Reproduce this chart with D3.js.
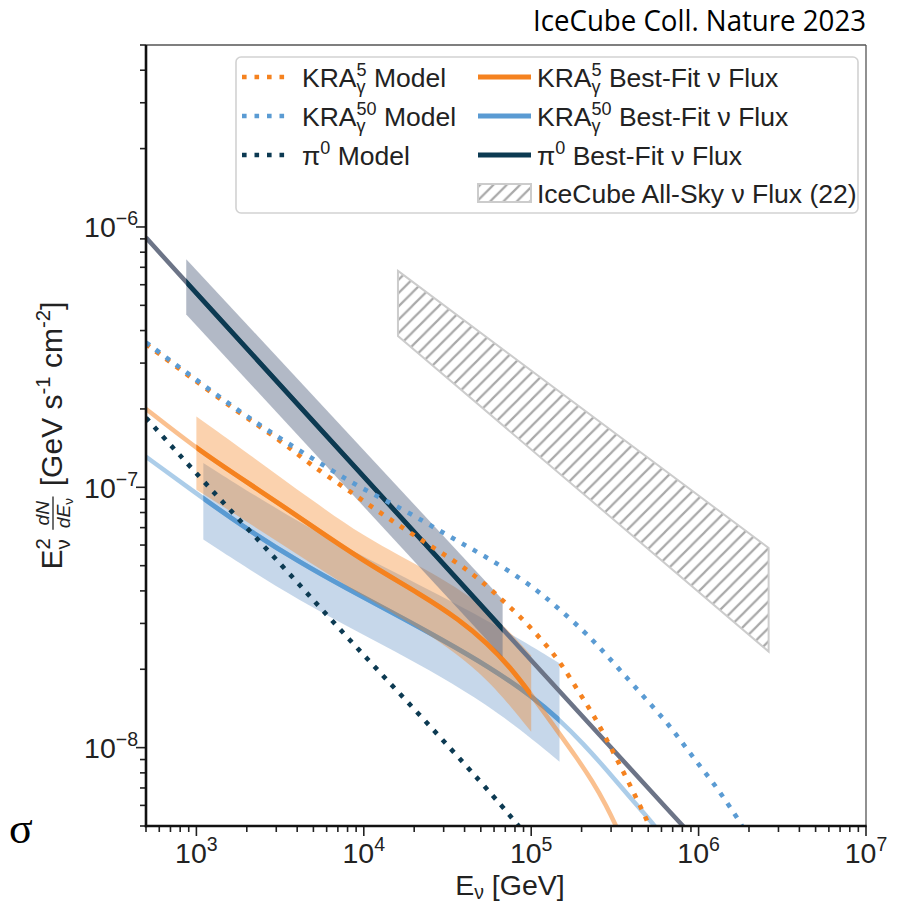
<!DOCTYPE html>
<html><head><meta charset="utf-8">
<script src="https://cdn.jsdelivr.net/npm/d3@7"></script>
<style>
html,body{margin:0;padding:0;background:#fff;}
svg text{font-family:"Liberation Sans",Arial,Helvetica,sans-serif;white-space:pre;fill:#222;}
</style></head>
<body><svg id="chart" width="902" height="904"></svg>
<script>
// E^2 dN/dE [GeV s^-1 cm^-2] versus neutrino energy E [GeV]

// tick decades (powers of ten)
const xTickExponents = [3, 4, 5, 6, 7];
const yTickExponents = [-8, -7, -6];

// KRA-gamma (5 PeV cutoff) model, dotted
const kra5ModelE = [500, 893, 1778, 3155, 4645, 8241, 14290, 25350, 44870, 66220, 89130, 120200, 151000, 194100, 238800, 300600, 382800, 508200, 530000];
const kra5ModelF = [3.55e-7, 2.69e-7, 1.94e-7, 1.52e-7, 1.24e-7, 9.66e-8, 7.52e-8, 5.93e-8, 4.69e-8, 3.72e-8, 3.12e-8, 2.52e-8, 2.11e-8, 1.62e-8, 1.32e-8, 9.95e-9, 7.35e-9, 5.05e-9, 4.6e-9];

// KRA-gamma (50 PeV cutoff) model, dotted
const kra50ModelE = [500, 893, 1778, 3155, 5458, 9462, 17990, 28380, 44870, 70960, 107200, 140900, 208000, 261800, 328900, 414000, 520000, 653100, 803500, 986300, 1213000, 1489000, 1790000, 1900000];
const kra50ModelF = [3.6e-7, 2.73e-7, 1.97e-7, 1.54e-7, 1.24e-7, 9.98e-8, 8.1e-8, 6.8e-8, 5.77e-8, 4.86e-8, 4.05e-8, 3.49e-8, 2.79e-8, 2.39e-8, 2.03e-8, 1.72e-8, 1.46e-8, 1.24e-8, 1.04e-8, 8.71e-9, 7.39e-9, 6.11e-9, 5.12e-9, 4.7e-9];

// pi0 model, dotted
const pi0ModelE = [500, 1151, 3296, 8241, 21090, 53210, 83180, 90000];
const pi0ModelF = [1.85e-7, 1.02e-7, 4.97e-8, 2.58e-8, 1.36e-8, 7.08e-9, 5.05e-9, 4.75e-9];

// best-fit fluxes (full curve; drawn strong inside the sensitive energy range)
const kra5FitE = [500, 1000, 1820, 3300, 5980, 11350, 21580, 37330, 54950, 74300, 100000, 147600, 185800, 233300, 280500, 321400, 345000];
const kra5FitF = [2.0e-7, 1.41e-7, 1.09e-7, 8.45e-8, 6.5e-8, 4.95e-8, 3.9e-8, 3.1e-8, 2.51e-8, 2.05e-8, 1.6e-8, 1.13e-8, 9.2e-9, 7.4e-9, 6.0e-9, 5.0e-9, 4.5e-9];
const kra5Range = [1000, 100000];

const kra50FitE = [500, 1100, 2090, 4150, 7890, 14960, 28380, 56360, 101900, 147600, 203200, 280500, 386400, 557200, 600000];
const kra50FitF = [1.31e-7, 9.05e-8, 6.78e-8, 5.15e-8, 4.09e-8, 3.29e-8, 2.63e-8, 2.04e-8, 1.57e-8, 1.28e-8, 1.04e-8, 8.26e-9, 6.48e-9, 4.95e-9, 4.6e-9];
const kra50Range = [1100, 147600];

const pi0FitE = [500, 870, 10000, 67500, 1000000];
const pi0FitF = [9.1e-7, 6.13e-7, 1.1e-7, 2.85e-8, 4.3e-9];
const pi0Range = [870, 67500];

// uncertainty bands of the best fits
const kra5BandE  = [1000, 2000, 5000, 10000, 20000, 50000, 100000];
const kra5BandHi = [1.87e-7, 1.36e-7, 8.83e-8, 6.47e-8, 5.11e-8, 3.68e-8, 2.26e-8];
const kra5BandLo = [9.79e-8, 7.38e-8, 5.04e-8, 3.80e-8, 2.96e-8, 2.0e-8, 1.15e-8];

const kra50BandE  = [1100, 4150, 14960, 56360, 147600];
const kra50BandHi = [1.24e-7, 7.23e-8, 4.75e-8, 3.07e-8, 2.11e-8];
const kra50BandLo = [6.30e-8, 3.62e-8, 2.38e-8, 1.47e-8, 8.83e-9];

const pi0BandE  = [870, 67500];
const pi0BandHi = [7.52e-7, 3.70e-8];
const pi0BandLo = [4.61e-7, 2.23e-8];

// IceCube all-sky diffuse flux region
const iceE  = [16000, 2620000];
const iceHi = [6.78e-7, 5.85e-8];
const iceLo = [3.81e-7, 2.34e-8];

// ---------------------------------------------------------------
const C = {
  orange: "#f5821f", blue: "#5a9bd3", navy: "#0c3a52", navyExt: "#6c7487",
  orangeBand: "#f5821f", blueBand: "#3a76b8", navyBand: "#5c6a85"
};

const svg = d3.select("#chart");
const X0 = 146, X1 = 866, Y0 = 45, Y1 = 826;
const x = d3.scaleLog().domain([500, 1e7]).range([X0, X1]);
const y = d3.scaleLog().domain([5e-9, 5e-6]).range([Y1, Y0]);

const defs = svg.append("defs");
defs.append("clipPath").attr("id", "plot")
  .append("rect").attr("x", X0).attr("y", Y0).attr("width", X1 - X0).attr("height", Y1 - Y0);
// clip windows for the fitted energy ranges
[["kra5", kra5Range], ["kra50", kra50Range], ["pi0", pi0Range]].forEach(([id, r]) => {
  defs.append("clipPath").attr("id", "rng-" + id)
    .append("rect").attr("x", x(r[0])).attr("y", Y0).attr("width", x(r[1]) - x(r[0])).attr("height", Y1 - Y0);
});

const hs = 13.3;
defs.append("pattern").attr("id", "hatch").attr("patternUnits", "userSpaceOnUse")
  .attr("width", hs).attr("height", hs)
  .append("path")
  .attr("d", `M0,${hs} L${hs},0 M${-hs/4},${hs/4} L${hs/4},${-hs/4} M${3*hs/4},${5*hs/4} L${5*hs/4},${3*hs/4}`)
  .attr("stroke", "#a9a9a9").attr("stroke-width", 2.2);

const zip = (E, F) => E.map((e, i) => [e, F[i]]);
const line = d3.line().x(d => x(d[0])).y(d => y(d[1])).curve(d3.curveBasis);
const area = d3.area().x(d => x(d.e)).y0(d => y(d.lo)).y1(d => y(d.hi)).curve(d3.curveBasis);
const bandData = (E, H, L) => E.map((e, i) => ({ e, hi: H[i], lo: L[i] }));

const plot = svg.append("g").attr("clip-path", "url(#plot)");

function fitCurve(pts, id, color, faint) {
  const p = plot.append("path").attr("d", line(pts)).attr("fill", "none")
    .attr("stroke", faint.color || color).attr("stroke-width", 4.5);
  if (faint.opacity) p.attr("stroke-opacity", faint.opacity);
  plot.append("path").attr("d", line(pts)).attr("fill", "none").attr("clip-path", `url(#rng-${id})`)
    .attr("stroke", color).attr("stroke-width", 4.8);
}

// KRA50 band and fit
plot.append("path").attr("d", area(bandData(kra50BandE, kra50BandHi, kra50BandLo)))
  .attr("fill", C.blueBand).attr("fill-opacity", 0.29);
fitCurve(zip(kra50FitE, kra50FitF), "kra50", C.blue, { opacity: 0.5 });

// KRA5 band and fit
plot.append("path").attr("d", area(bandData(kra5BandE, kra5BandHi, kra5BandLo)))
  .attr("fill", C.orangeBand).attr("fill-opacity", 0.36);
fitCurve(zip(kra5FitE, kra5FitF), "kra5", C.orange, { opacity: 0.5 });

// pi0 band and fit
plot.append("path").attr("d", area(bandData(pi0BandE, pi0BandHi, pi0BandLo)))
  .attr("fill", C.navyBand).attr("fill-opacity", 0.47);
fitCurve(zip(pi0FitE, pi0FitF), "pi0", C.navy, { color: C.navyExt });

// model curves (dotted)
const dotted = (sel, color) => sel.attr("fill", "none").attr("stroke", color)
  .attr("stroke-width", 4.6).attr("stroke-dasharray", "4.6 7.9");
dotted(plot.append("path").attr("d", line(zip(kra5ModelE, kra5ModelF))), C.orange);
dotted(plot.append("path").attr("d", line(zip(kra50ModelE, kra50ModelF))), C.blue);
dotted(plot.append("path").attr("d", line(zip(pi0ModelE, pi0ModelF))), C.navy);

// IceCube all-sky region
const icePoly = [[iceE[0], iceHi[0]], [iceE[1], iceHi[1]], [iceE[1], iceLo[1]], [iceE[0], iceLo[0]]];
plot.append("path").attr("d", "M" + icePoly.map(p => [x(p[0]), y(p[1])].join(",")).join("L") + "Z")
  .attr("fill", "url(#hatch)").attr("stroke", "#cccccc").attr("stroke-width", 2);

// ---------------------------------------------------------------
// axes
const tickCol = "#222";
const decadeTicks = (lo, hi) => {
  const out = [];
  for (let p = Math.floor(Math.log10(lo)); p <= Math.ceil(Math.log10(hi)); p++)
    for (let m = 1; m <= 9; m++) {
      const v = m * Math.pow(10, p);
      if (v >= lo * 0.999 && v <= hi * 1.001) out.push({ v, major: m === 1 });
    }
  return out;
};
const axes = svg.append("g");
decadeTicks(500, 1e7).forEach(t => {
  axes.append("line").attr("x1", x(t.v)).attr("x2", x(t.v)).attr("y1", Y1)
    .attr("y2", Y1 + (t.major ? 10 : 6)).attr("stroke", tickCol).attr("stroke-width", 1.6);
});
decadeTicks(5e-9, 5e-6).forEach(t => {
  axes.append("line").attr("y1", y(t.v)).attr("y2", y(t.v)).attr("x1", X0)
    .attr("x2", X0 - (t.major ? 10 : 6)).attr("stroke", tickCol).attr("stroke-width", 1.6);
});
// frame
axes.append("line").attr("x1", X0 - 5).attr("x2", X1).attr("y1", Y0).attr("y2", Y0).attr("stroke", "#555").attr("stroke-width", 1.3);
axes.append("line").attr("x1", X1).attr("x2", X1).attr("y1", Y0).attr("y2", Y1).attr("stroke", "#555").attr("stroke-width", 1.3);
axes.append("line").attr("x1", X0).attr("x2", X0).attr("y1", Y0).attr("y2", Y1 + 1.2).attr("stroke", "#111").attr("stroke-width", 2.6);
axes.append("line").attr("x1", X0 - 1.2).attr("x2", X1 + 0.6).attr("y1", Y1).attr("y2", Y1).attr("stroke", "#111").attr("stroke-width", 2.6);

// tick labels
const TF = 28.5, SF = 19.5;
xTickExponents.forEach(p => {
  const t = svg.append("text").attr("x", x(Math.pow(10, p))).attr("y", Y1 + 37)
    .attr("text-anchor", "middle").attr("font-size", TF);
  t.append("tspan").text("10");
  t.append("tspan").attr("dy", -12).attr("font-size", SF).text(String(p));
});
yTickExponents.forEach(p => {
  const t = svg.append("text").attr("x", X0 - 8).attr("y", y(Math.pow(10, p)) + 10.5)
    .attr("text-anchor", "end").attr("font-size", TF);
  t.append("tspan").text("10");
  t.append("tspan").attr("dy", -12).attr("font-size", SF).text("\u2212" + (-p));
});

// rich text helper: parts are {t} plain runs, {sup, sub} stacked scripts, {frac:[num, den, denSub]}
function rich(parent, x0, y0, parts, size, subDrop) {
  let cx = x0;
  const ss = size * 0.68;
  const drop = subDrop === undefined ? size * 0.26 : subDrop;
  parts.forEach(p => {
    if (p.t !== undefined) {
      const el = parent.append("text").attr("x", cx).attr("y", y0).attr("font-size", size).text(p.t);
      cx += el.node().getComputedTextLength();
    } else if (p.frac) {
      const fs = size * 0.64;
      const g = parent.append("g");
      const num = g.append("text").attr("y", y0 - size * 0.45).attr("font-size", fs)
        .attr("font-style", "italic").attr("text-anchor", "middle").text(p.frac[0]);
      const den = g.append("text").attr("y", y0 + size * 0.27).attr("font-size", fs)
        .attr("font-style", "italic").attr("text-anchor", "middle");
      den.append("tspan").text(p.frac[1]);
      den.append("tspan").attr("dy", 3).attr("font-size", fs * 0.7).attr("font-style", "normal").text(p.frac[2]);
      const w = Math.max(num.node().getComputedTextLength(), den.node().getComputedTextLength()) + 3;
      num.attr("x", cx + w / 2); den.attr("x", cx + w / 2);
      g.append("line").attr("x1", cx).attr("x2", cx + w).attr("y1", y0 - size * 0.3).attr("y2", y0 - size * 0.3)
        .attr("stroke", "#222").attr("stroke-width", 1.3);
      cx += w + 2;
    } else {
      let w = 0;
      if (p.sup) {
        const s = parent.append("text").attr("x", cx).attr("y", y0 - size * 0.4).attr("font-size", ss).text(p.sup);
        w = Math.max(w, s.node().getComputedTextLength());
      }
      if (p.sub) {
        const s = parent.append("text").attr("x", cx).attr("y", y0 + drop).attr("font-size", ss).text(p.sub);
        w = Math.max(w, s.node().getComputedTextLength());
      }
      cx += w;
    }
  });
  return cx - x0;
}

// x axis label
{
  const g = svg.append("g");
  const w = rich(g, 0, 0, [{ t: "E" }, { sub: "\u03bd" }, { t: " [GeV]" }], 28.5, 4);
  g.attr("transform", `translate(${(X0 + X1) / 2 - w / 2 + 4},895)`);
}
// y axis label
{
  const outer = svg.append("g").attr("transform", `translate(62,${(Y0 + Y1) / 2}) rotate(-90)`);
  const g = outer.append("g");
  const w = rich(g, 0, 0, [
    { t: "E" }, { sup: "2", sub: "\u03bd" }, { t: " " },
    { frac: ["dN", "dE", "\u03bd"] },
    { t: " [GeV s" }, { sup: "-1" }, { t: " cm" }, { sup: "-2" }, { t: "]" }
  ], 30);
  g.attr("transform", `translate(${-w / 2},0)`);
}

// legend
{
  const L = svg.append("g");
  L.append("rect").attr("x", 236).attr("y", 57).attr("width", 622).attr("height", 156).attr("rx", 5)
    .attr("fill", "#fff").attr("fill-opacity", 0.85).attr("stroke", "#d2d2d2").attr("stroke-width", 1.6);
  const rows = [77, 116, 155, 193];
  const LF = 26.5;
  const hx0 = 242, hx1 = 289, rx0 = 478, rx1 = 531, tl = 302, tr = 537;
  const leg = [
    { col: C.orange, name: [{ t: "KRA" }, { sup: "5", sub: "\u03b3" }] },
    { col: C.blue, name: [{ t: "KRA" }, { sup: "50", sub: "\u03b3" }] },
    { col: C.navy, name: [{ t: "\u03c0" }, { sup: "0" }] }
  ];
  leg.forEach((d, i) => {
    const yy = rows[i];
    L.append("line").attr("x1", hx0).attr("x2", hx1).attr("y1", yy).attr("y2", yy)
      .attr("stroke", d.col).attr("stroke-width", 4.6).attr("stroke-dasharray", "4.6 7.9");
    rich(L, tl, yy + 9.5, d.name.concat([{ t: " Model" }]), LF);
    L.append("line").attr("x1", rx0).attr("x2", rx1).attr("y1", yy).attr("y2", yy)
      .attr("stroke", d.col).attr("stroke-width", 5);
    rich(L, tr, yy + 9.5, d.name.concat([{ t: " Best-Fit \u03bd Flux" }]), LF);
  });
  L.append("rect").attr("x", rx0).attr("y", rows[3] - 9).attr("width", rx1 - rx0).attr("height", 18)
    .attr("fill", "url(#hatch)").attr("stroke", "#cccccc").attr("stroke-width", 2);
  rich(L, tr, rows[3] + 9.5, [{ t: "IceCube All-Sky \u03bd Flux (22)" }], LF);
}

// credit line and stray glyph
svg.append("text").attr("x", 866).attr("y", 31).attr("text-anchor", "end")
  .style("font-family", "'Open Sans', 'Noto Sans', sans-serif").attr("font-size", 29)
  .attr("textLength", 333).attr("lengthAdjust", "spacingAndGlyphs")
  .style("fill", "#000").text("IceCube Coll. Nature 2023");
svg.append("text").attr("x", 9).attr("y", 843)
  .style("font-family", "'Liberation Serif', 'DejaVu Serif', serif").attr("font-size", 44)
  .style("fill", "#000").text("\u03c3");
</script></body></html>
